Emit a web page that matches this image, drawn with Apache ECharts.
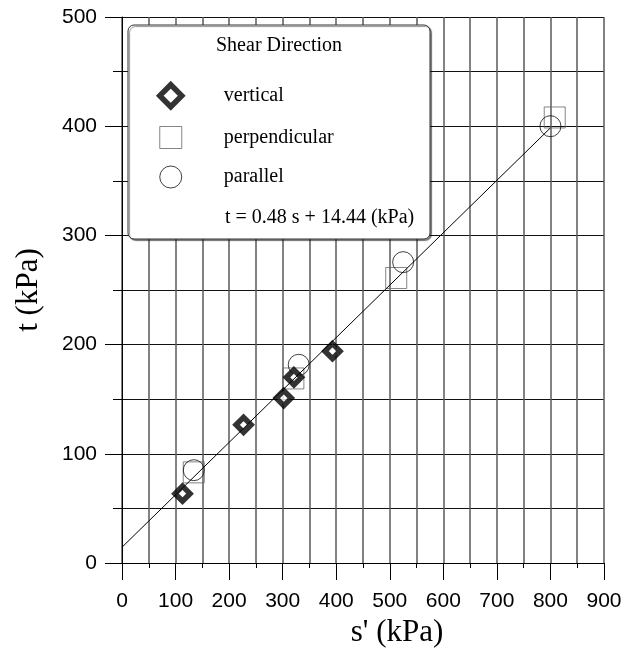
<!DOCTYPE html>
<html>
<head>
<meta charset="utf-8">
<script src="https://cdn.jsdelivr.net/npm/echarts@6/dist/echarts.min.js"></script>
<style>
    html, body { margin: 0; padding: 0; background: #fff; }
    #chart { width: 639px; height: 650px; }
</style>
</head>
<body>
<div id="chart"></div>
<script>
// s' (kPa) / t (kPa) readings
var verticalS = [113, 227, 302, 321, 393];
var verticalT = [63.5, 126.5, 151, 170, 194];
var perpS = [134, 320, 512, 808];
var perpT = [83, 169, 261, 408];
var parS = [134, 330, 525, 800];
var parT = [85, 181.5, 275.5, 400];
// fit: t = 0.48 s + 14.44
var fitS = [0, 800];
var fitT = [14.44, 398.44];
var seriesNames = ["vertical", "perpendicular", "parallel"];

function pairs(xs, ys) {
    var out = [];
    for (var i = 0; i < xs.length; i++) {
        out.push([xs[i], ys[i]]);
    }
    return out;
}

var serif = "'Liberation Serif', 'DejaVu Serif', serif";
var sans = "'Liberation Sans', Arial, sans-serif";

var myChart = echarts.init(document.getElementById("chart"));
var option = {
    animation: false,
    backgroundColor: "#fff",
    grid: {left: 122, right: 35, top: 17, bottom: 87, outerBoundsMode: "none"},
    xAxis: {
        type: "value",
        min: 0, max: 900, interval: 100,
        axisLine: {show: true, onZero: false, lineStyle: {color: "#000", width: 1}},
        axisTick: {show: true, length: 17, lineStyle: {color: "#000"}},
        minorTick: {show: true, splitNumber: 2, length: 5, lineStyle: {color: "#000"}},
        splitLine: {show: true, lineStyle: {color: "#5a5a5a", width: 1.5}},
        minorSplitLine: {show: true, lineStyle: {color: "#5a5a5a", width: 1.5}},
        axisLabel: {color: "#000", fontSize: 21, fontFamily: sans, margin: 28},
        name: "s' (kPa)",
        nameLocation: "middle",
        nameGap: 54,
        nameTextStyle: {color: "#000", fontSize: 31, fontFamily: serif, padding: [0, 0, 0, 68]}
    },
    yAxis: {
        type: "value",
        min: 0, max: 500, interval: 100,
        axisLine: {show: true, onZero: false, lineStyle: {color: "#000", width: 1}},
        axisTick: {show: true, length: 17, lineStyle: {color: "#000"}},
        minorTick: {show: true, splitNumber: 2, length: 9, lineStyle: {color: "#000"}},
        splitLine: {show: true, lineStyle: {color: "#111", width: 1}},
        minorSplitLine: {show: true, lineStyle: {color: "#111", width: 1}},
        axisLabel: {color: "#000", fontSize: 21, fontFamily: sans, margin: 25},
        name: "t (kPa)",
        nameLocation: "middle",
        nameGap: 78,
        nameTextStyle: {color: "#000", fontSize: 31, fontFamily: serif}
    },
    legend: {
        orient: "vertical",
        left: 152, top: 77,
        itemWidth: 22, itemHeight: 22, itemGap: 16.5,
        data: seriesNames,
        itemStyle: {borderWidth: "inherit"},
        textStyle: {color: "#000", fontSize: 20, fontFamily: serif, padding: [0, 0, 0, 37]},
        selectedMode: false,
        z: 6
    },
    graphic: [
        {
            type: "rect", z: 4,
            shape: {x: 128, y: 25, width: 302, height: 214, r: 6},
            style: {fill: "#fff", stroke: "#333", lineWidth: 1,
                shadowColor: "rgba(0,0,0,0.45)", shadowOffsetX: 1.5, shadowOffsetY: 1.5, shadowBlur: 1}
        },
        {
            type: "text", z: 6, left: 216, top: 36,
            style: {text: "Shear Direction", fill: "#000", font: "20px " + serif}
        },
        {
            type: "text", z: 6, left: 225, top: 208,
            style: {text: "t = 0.48 s + 14.44 (kPa)", fill: "#000", font: "20px " + serif}
        }
    ],
    series: [
        {
            name: seriesNames[0],
            type: "scatter",
            symbol: "diamond",
            symbolSize: 15,
            data: pairs(verticalS, verticalT),
            itemStyle: {color: "#fff", borderColor: "#000", borderWidth: 5.5},
            z: 4
        },
        {
            name: seriesNames[1],
            type: "scatter",
            symbol: "rect",
            symbolSize: 21,
            data: pairs(perpS, perpT),
            itemStyle: {color: "rgba(255,255,255,0)", borderColor: "#666", borderWidth: 1},
            z: 3
        },
        {
            name: seriesNames[2],
            type: "scatter",
            symbol: "circle",
            symbolSize: 21,
            data: pairs(parS, parT),
            itemStyle: {color: "rgba(255,255,255,0)", borderColor: "#111", borderWidth: 1},
            z: 3
        },
        {
            name: "fit",
            type: "line",
            data: pairs(fitS, fitT),
            showSymbol: false,
            lineStyle: {color: "#000", width: 1},
            silent: true,
            z: 5
        }
    ]
};
myChart.setOption(option);
</script>
</body>
</html>
